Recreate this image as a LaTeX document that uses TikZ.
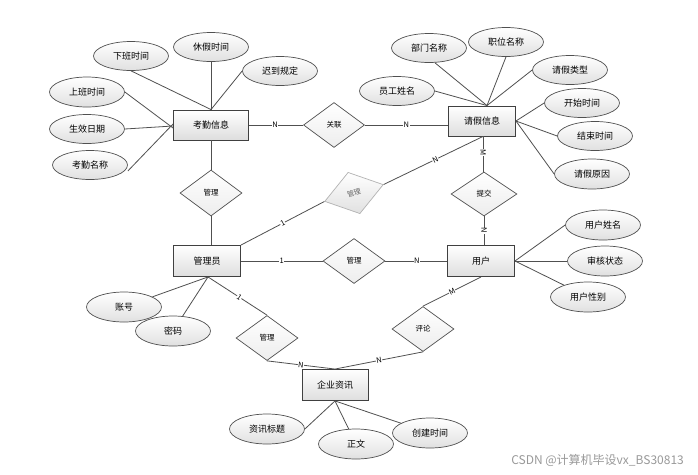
\documentclass[tikz,border=0pt]{standalone}
\usepackage{fontspec}
\setmainfont{Noto Sans CJK SC}
\usetikzlibrary{shapes.geometric}
\definecolor{edgecol}{HTML}{505050}
\definecolor{boxline}{HTML}{404040}
\tikzset{
  ent/.style={rectangle, draw=boxline, line width=0.9pt, top color=white, bottom color=black!13,
    minimum width=67pt, minimum height=31pt, inner sep=0pt, font=\fontsize{9}{10}\selectfont},
  attr/.style={ellipse, draw=edgecol, line width=0.7pt, top color=white, bottom color=black!12,
    minimum width=75pt, minimum height=30pt, inner sep=0pt, font=\fontsize{9}{10}\selectfont},
  rel/.style={diamond, draw=edgecol, line width=0.7pt, top color=white, bottom color=black!7,
    minimum width=62pt, minimum height=45pt, inner sep=0pt, font=\fontsize{7.5}{8}\selectfont},
  ghost/.style={diamond, draw=black!30, line width=0.7pt, top color=white, bottom color=black!12,
    minimum width=61pt, minimum height=43pt, inner sep=0pt, text=black!60, font=\fontsize{7}{8}\selectfont},
  conn/.style={draw=edgecol, line width=0.8pt},
  card/.style={fill=white, inner sep=0.4pt, sloped, font=\fontsize{7.5}{8}\selectfont},
  wm/.style={text=black!40, font=\fontsize{12}{13}\selectfont, inner sep=0pt}
}
\begin{document}
\begin{tikzpicture}[x=1pt,y=-1pt]
\useasboundingbox[fill=white] (0,0) rectangle (698,474);
% entities
\node[ent, minimum width=75pt, minimum height=30pt] (kq) at (211,125) {考勤信息};
\node[ent, minimum height=30pt] (qj) at (482,121) {请假信息};
\node[ent] (gly) at (207,261) {管理员};
\node[ent] (yh) at (481,261) {用户};
\node[ent, minimum width=66pt] (qz) at (335,385) {企业资讯};
% relationships
\node[rel, minimum width=61pt] (gl) at (334,125) {关联};
\node[rel, minimum height=46pt] (m1) at (211,193) {管理};
\node[ghost, rotate=16] (gm) at (354,193) {管理};
\node[rel] (m2) at (354,261) {管理};
\node[rel, minimum width=66pt, minimum height=44pt] (tj) at (484,194) {提交};
\node[rel] (m3) at (267,338) {管理};
\node[rel] (pl) at (423,329) {评论};
% attributes
\node[attr, minimum height=29pt] (xb) at (131,56) {下班时间};
\node[attr, minimum height=29pt] (xj) at (211,47) {休假时间};
\node[attr, minimum height=29pt] (cd) at (280,71) {迟到规定};
\node[attr] (sb) at (87,92) {上班时间};
\node[attr, minimum height=29pt] (sx) at (87,129) {生效日期};
\node[attr, minimum height=29pt] (kmc) at (90,165) {考勤名称};
\node[attr, minimum height=29pt] (bm) at (429,48) {部门名称};
\node[attr, minimum height=29pt] (zw) at (506,42) {职位名称};
\node[attr, minimum height=29pt] (qlx) at (570,70) {请假类型};
\node[attr, minimum height=29pt] (yg) at (397,91) {员工姓名};
\node[attr, minimum height=29pt] (ks) at (582,103) {开始时间};
\node[attr, minimum height=29pt] (js) at (595,136) {结束时间};
\node[attr] (qy) at (592,174) {请假原因};
\node[attr] (yx) at (603,225) {用户姓名};
\node[attr] (sh) at (605,261) {审核状态};
\node[attr] (xbie) at (588,297) {用户性别};
\node[attr] (zh) at (124,307) {账号};
\node[attr] (mm) at (173,331) {密码};
\node[attr] (bt) at (267,429) {资讯标题};
\node[attr] (zwn) at (356,444) {正文};
\node[attr] (cj) at (430,433) {创建时间};
% helper coordinates
\coordinate (qjn) at ([xshift=5pt]qj.north);
\coordinate (qjs) at ([xshift=1pt]qj.south);
\coordinate (glys) at ([xshift=1pt]gly.south);
% connectors: 考勤信息
\draw[conn] (xb.south) -- (kq.north);
\draw[conn] (xj.south) -- (kq.north);
\draw[conn] (cd.west) -- (kq.north);
\draw[conn] (sb.east) -- ([yshift=-3pt]kq.west);
\draw[conn] (sx.east) -- ([yshift=-1pt]kq.west);
\draw[conn] ([yshift=-6pt]kmc.east) -- ([yshift=1pt]kq.west);
\draw[conn] (kq.east) -- node[card, pos=0.48] {N} (gl.west);
\draw[conn] (kq.south) -- (m1.north);
% 请假信息
\draw[conn] (gl.east) -- node[card] {N} (gl.east -| qj.west);
\draw[conn] (yg.east) -- (qjn);
\draw[conn] ([xshift=6pt]bm.south) -- (qjn);
\draw[conn] (zw.south) -- (qjn);
\draw[conn] (qlx.west) -- (qjn);
\draw[conn] (qj.east) -- (ks.west);
\draw[conn] (qj.east) -- (js.west);
\draw[conn] (qj.east) -- (qy.west);
\draw[conn] (qjs) -- node[card, pos=0.46] {M} (qjs |- tj.north);
\draw[conn] (qjs) -- node[card, pos=0.48] {N} (gm.east);
% 管理员
\draw[conn] (gly.north east) -- node[card] {1} (gm.west);
\draw[conn] (m1.south) -- (m1.south |- gly.north);
\draw[conn] (gly.east) -- node[card] {1} (m2.west);
\draw[conn] (m2.east) -- node[card, pos=0.51] {N} (yh.west);
\draw[conn] (glys) -- node[card, pos=0.53] {1} (m3.north);
\draw[conn] (glys) -- (zh);
\draw[conn] (glys) -- (mm);
% 用户
\draw[conn] (tj.south) -- node[card] {N} (tj.south |- yh.north);
\draw[conn] (yh.east) -- (yx.west);
\draw[conn] (yh.east) -- (sh.west);
\draw[conn] (yh.east) -- (xbie);
\draw[conn] (yh.south) -- node[card] {M} (pl.north);
% 企业资讯
\draw[conn] (pl.south) -- node[card] {N} (qz.north);
\draw[conn] (m3.south) -- node[card] {N} (qz.north);
\draw[conn] (qz.south) -- (bt.east);
\draw[conn] (qz.south) -- (zwn);
\draw[conn] (qz.south) -- (cj);
% watermark
\node[wm, anchor=east] (wmk) at (684,460) {CSDN @计算机毕设vx\_BS30813};
\end{tikzpicture}
\end{document}
